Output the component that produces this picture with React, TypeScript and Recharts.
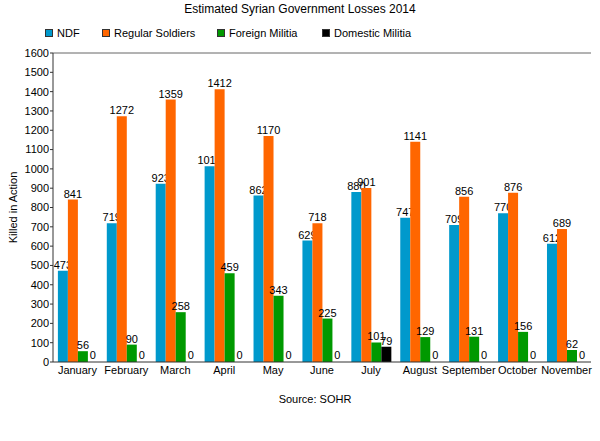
import React from 'react';
import { BarChart, Bar, XAxis, YAxis, LabelList, ReferenceLine, Cell } from 'recharts';

const months = ['January', 'February', 'March', 'April', 'May', 'June', 'July', 'August', 'September', 'October', 'November'];
const ndf = [473, 719, 923, 1014, 862, 629, 880, 747, 709, 770, 612];
const regularSoldiers = [841, 1272, 1359, 1412, 1170, 718, 901, 1141, 856, 876, 689];
const foreignMilitia = [56, 90, 258, 459, 343, 225, 101, 129, 131, 156, 62];
const domesticMilitia = [0, 0, 0, 0, 0, 0, 79, 0, 0, 0, 0];
const yTicks = [0, 100, 200, 300, 400, 500, 600, 700, 800, 900, 1000, 1100, 1200, 1300, 1400, 1500, 1600];
const boundaryTicks = [0, 1, 2, 3, 4, 5, 6, 7, 8, 9, 10, 11];

const series = [
    { key: 'ndf', name: 'NDF', color: '#0099CC', legendX: 45, values: ndf },
    { key: 'regular', name: 'Regular Soldiers', color: '#FF6600', legendX: 102, values: regularSoldiers },
    { key: 'foreign', name: 'Foreign Militia', color: '#009900', legendX: 217, values: foreignMilitia },
    { key: 'domestic', name: 'Domestic Militia', color: '#000000', legendX: 322, values: domesticMilitia },
];

const data = months.map((m, i) => ({
    month: m,
    ndf: ndf[i],
    regular: regularSoldiers[i],
    foreign: foreignMilitia[i],
    domestic: domesticMilitia[i],
}));

const font = "Arial, 'Liberation Sans', sans-serif";

const App: React.FC = () => {
    return (
        <div style={{ position: 'absolute', left: 0, top: 0, width: 600, height: 441, background: '#fff', fontFamily: font }}>
            <div style={{ position: 'absolute', top: 2, left: 0, width: 600, textAlign: 'center', fontSize: 12 }}>
                Estimated Syrian Government Losses 2014
            </div>
            {series.map(s => (
                <div key={s.key} style={{ position: 'absolute', top: 27, left: s.legendX, fontSize: 11, display: 'flex', alignItems: 'center' }}>
                    <span style={{ display: 'inline-block', width: 6, height: 6, background: s.color, border: '1px solid #333', marginRight: 4 }} />
                    <span>{s.name}</span>
                </div>
            ))}
            <BarChart
                width={600}
                height={441}
                data={data}
                margin={{ top: 53, right: 9, bottom: 49, left: 13 }}
                barCategoryGap="10%"
                barGap={0}
                style={{ fontFamily: font }}
            >
                <XAxis
                    xAxisId="b"
                    type="number"
                    domain={[0, 11]}
                    ticks={boundaryTicks}
                    height={0}
                    tick={false}
                    tickSize={4}
                    axisLine={false}
                    stroke="#333"
                />
                <XAxis
                    dataKey="month"
                    height={30}
                    tickLine={false}
                    tickSize={2}
                    tickMargin={2}
                    interval={0}
                    axisLine={{ stroke: '#333' }}
                    tick={{ fontSize: 11, fill: '#000' }}
                />
                <YAxis
                    domain={[0, 1600]}
                    ticks={yTicks}
                    width={40}
                    tickSize={3}
                    tickMargin={1}
                    interval={0}
                    axisLine={{ stroke: '#333' }}
                    tickLine={{ stroke: '#333' }}
                    tick={{ fontSize: 11, fill: '#000' }}
                    label={{ value: 'Killed in Action', angle: -90, position: 'insideLeft', offset: 0, style: { fontSize: 11, fill: '#000', textAnchor: 'middle' } }}
                />
                <YAxis
                    yAxisId="r"
                    orientation="right"
                    domain={[0, 1600]}
                    width={0}
                    tick={false}
                    tickLine={false}
                    axisLine={{ stroke: '#666' }}
                />
                <ReferenceLine y={1600} stroke="#666" />
                {series.map((s, si) => (
                    <Bar
                        key={s.key}
                        dataKey={s.key}
                        name={s.name}
                        fill={s.color}
                        minPointSize={1}
                        zIndex={300 + si * 10}
                        isAnimationActive={false}
                    >
                        {s.values.map((v, i) => (
                            <Cell key={i} fill={v === 0 ? 'none' : s.color} />
                        ))}
                        <LabelList
                            dataKey={s.key}
                            position="top"
                            offset={2}
                            zIndex={305 + si * 10}
                            style={{ fontSize: 11, fill: '#000' }}
                        />
                    </Bar>
                ))}
            </BarChart>
            <div style={{ position: 'absolute', top: 393, left: 0, width: 630, textAlign: 'center', fontSize: 11 }}>
                Source: SOHR
            </div>
        </div>
    );
};

export default App;
